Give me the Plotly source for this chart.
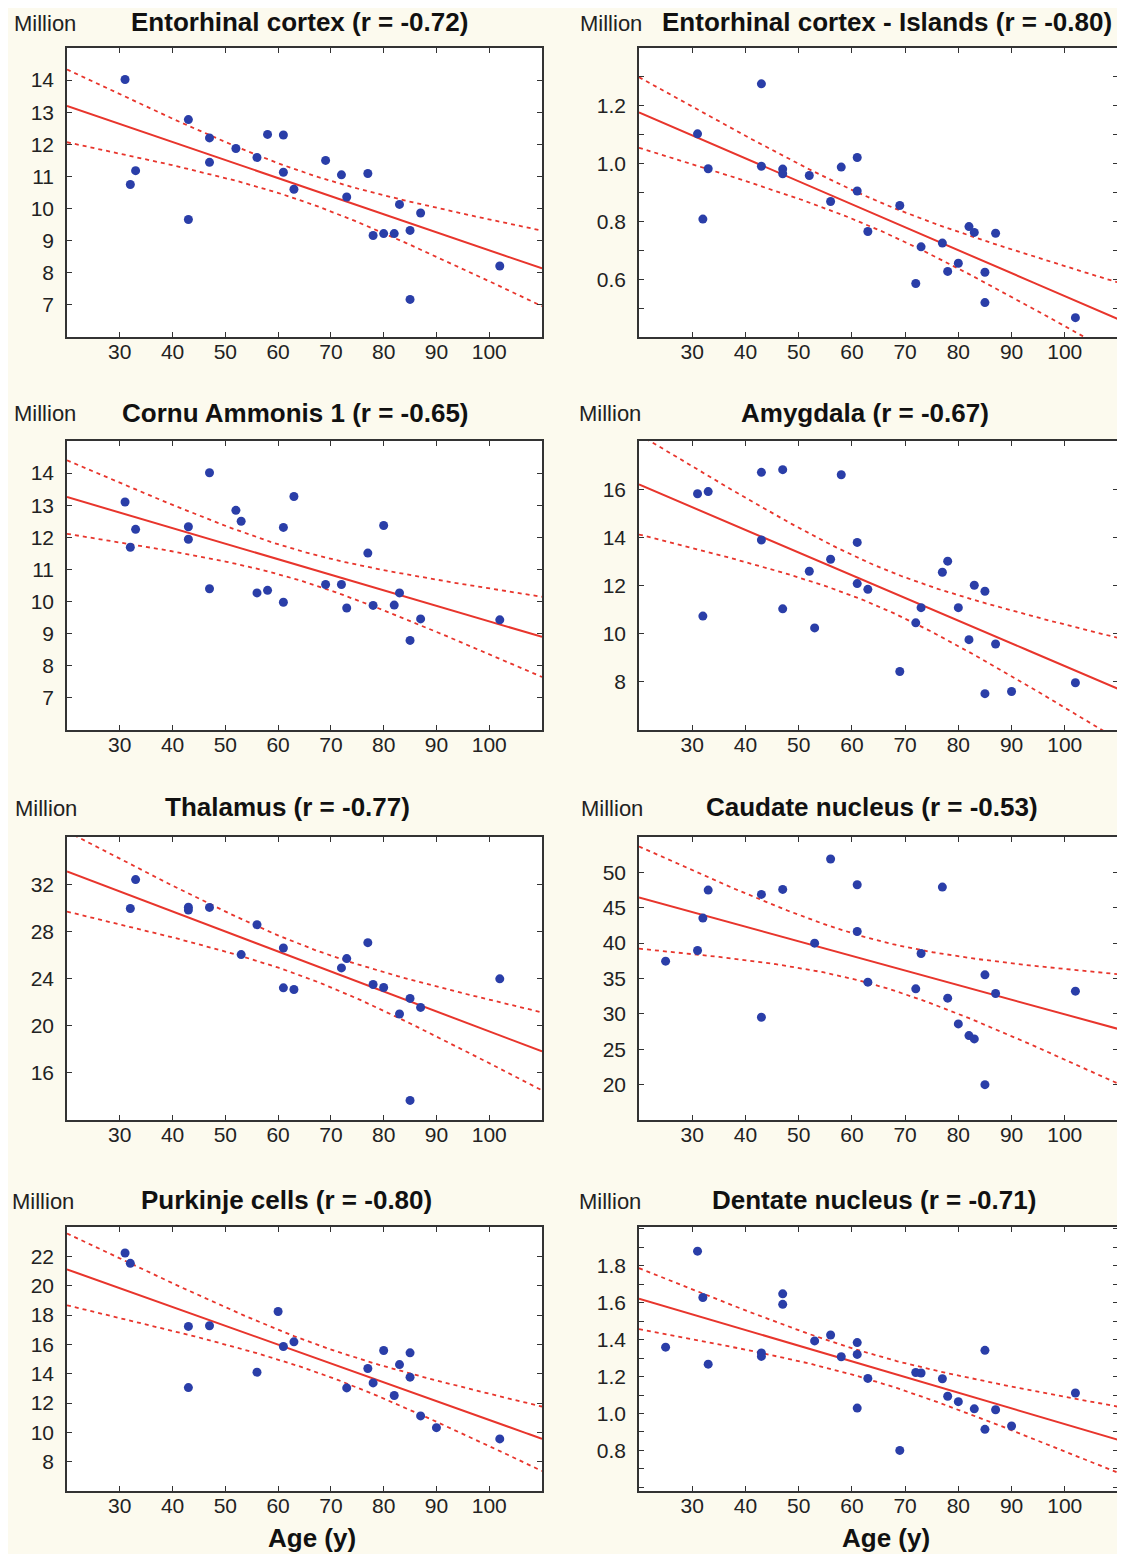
import numpy as np
import plotly.graph_objects as go

# ---------------- data ----------------
ec_age = [31, 32, 33, 43, 43, 47, 47, 52, 56, 58, 61, 61, 63, 69, 72, 73, 77, 78, 80, 82, 83, 85, 85, 87, 102]
ec_val = [14.02, 10.75, 11.18, 12.77, 9.66, 12.2, 11.44, 11.87, 11.59, 12.31, 12.29, 11.13, 10.6, 11.5,
          11.05, 10.36, 11.09, 9.16, 9.22, 9.22, 10.13, 9.32, 7.17, 9.86, 8.21]

eci_age = [31, 32, 33, 43, 43, 47, 47, 52, 56, 58, 61, 61, 63, 69, 72, 73, 77, 78, 80, 82, 83, 85, 85, 87, 102]
eci_val = [1.103, 0.808, 0.982, 1.276, 0.991, 0.981, 0.965, 0.959, 0.869, 0.988, 1.021, 0.905, 0.765, 0.855,
           0.585, 0.712, 0.725, 0.627, 0.655, 0.782, 0.762, 0.624, 0.519, 0.759, 0.467]

ca1_age = [31, 32, 33, 43, 43, 47, 47, 52, 53, 56, 58, 61, 61, 63, 69, 72, 73, 77, 78, 80, 82, 83, 85, 87, 102]
ca1_val = [13.10, 11.69, 12.25, 12.33, 11.94, 14.01, 10.40, 12.84, 12.50, 10.27, 10.35, 12.31, 9.98, 13.27,
           10.53, 10.53, 9.80, 11.51, 9.88, 12.37, 9.89, 10.27, 8.79, 9.46, 9.43]

amy_age = [31, 32, 33, 43, 43, 47, 47, 52, 53, 56, 58, 61, 61, 63, 69, 72, 73, 77, 78, 80, 82, 83, 85, 85, 87, 90, 102]
amy_val = [15.81, 10.73, 15.90, 16.70, 13.89, 16.81, 11.03, 12.59, 10.24, 13.09, 16.60, 13.79, 12.08, 11.84,
           8.43, 10.45, 11.08, 12.55, 13.01, 11.08, 9.75, 12.01, 11.76, 7.51, 9.57, 7.60, 7.96]

tha_age = [32, 33, 43, 43, 47, 53, 56, 61, 61, 63, 72, 73, 77, 78, 80, 83, 85, 85, 87, 102]
tha_val = [29.94, 32.39, 30.05, 29.80, 30.03, 26.03, 28.56, 26.59, 23.21, 23.07, 24.90, 25.69, 27.04, 23.49,
           23.24, 20.99, 22.31, 13.66, 21.55, 23.97]

cau_age = [25, 31, 32, 33, 43, 43, 47, 53, 56, 61, 61, 63, 72, 73, 77, 78, 80, 82, 83, 85, 85, 87, 102]
cau_val = [37.45, 38.96, 43.54, 47.50, 46.89, 29.53, 47.59, 40.0, 51.89, 48.25, 41.65, 34.48, 33.54, 38.54,
           47.92, 32.22, 28.58, 26.93, 26.46, 35.52, 20.0, 32.88, 33.21]

pur_age = [31, 32, 43, 43, 47, 56, 60, 61, 63, 73, 77, 78, 80, 82, 83, 85, 85, 87, 90, 102]
pur_val = [22.23, 21.52, 17.22, 13.05, 17.27, 14.10, 18.24, 15.85, 16.17, 13.03, 14.35, 13.37, 15.58, 12.51,
           14.62, 15.42, 13.76, 11.12, 10.32, 9.55]

den_age = [25, 31, 32, 33, 43, 43, 47, 47, 53, 56, 58, 61, 61, 61, 63, 69, 72, 73, 77, 78, 80, 83, 85, 85, 87, 90, 102]
den_val = [1.359, 1.879, 1.628, 1.267, 1.328, 1.309, 1.648, 1.591, 1.393, 1.425, 1.307, 1.384, 1.320, 1.029,
           1.190, 0.800, 1.222, 1.219, 1.188, 1.093, 1.064, 1.025, 1.342, 0.914, 1.020, 0.932, 1.111]

titles = ["Entorhinal cortex (r = -0.72)", "Entorhinal cortex - Islands (r = -0.80)",
          "Cornu Ammonis 1 (r = -0.65)", "Amygdala (r = -0.67)",
          "Thalamus (r = -0.77)", "Caudate nucleus (r = -0.53)",
          "Purkinje cells (r = -0.80)", "Dentate nucleus (r = -0.71)"]

x_ticks = [30, 40, 50, 60, 70, 80, 90, 100]
y_ticks = [
    [7, 8, 9, 10, 11, 12, 13, 14],
    [0.6, 0.8, 1.0, 1.2],
    [7, 8, 9, 10, 11, 12, 13, 14],
    [8, 10, 12, 14, 16],
    [16, 20, 24, 28, 32],
    [20, 25, 30, 35, 40, 45, 50],
    [8, 10, 12, 14, 16, 18, 20, 22],
    [0.8, 1.0, 1.2, 1.4, 1.6, 1.8],
]
y_ranges = [[6, 15], [0.4, 1.4], [6, 15], [6, 18], [12, 36], [15, 55], [6, 24], [0.58, 2.01]]
x_range = [20, 110]

series = [(ec_age, ec_val), (eci_age, eci_val), (ca1_age, ca1_val), (amy_age, amy_val),
          (tha_age, tha_val), (cau_age, cau_val), (pur_age, pur_val), (den_age, den_val)]

# ---------------- layout geometry (window pixels; page has an 8px body margin) ----------------
OFF = 8
W, H = 1125 - OFF, 1554 - OFF
rows_px = [(48, 337), (441, 730), (837, 1120), (1227, 1491)]
cols_px = [(67, 542), (639, 1118)]
title_cx = [299, 887, 295, 865, 287, 872, 286, 874]
title_cy = [22, 22, 413, 413, 807, 807, 1200, 1200]
million_x = [12, 578, 12, 577, 13, 579, 10, 577]
age_cx = [312, 886]
age_cy = 1538

RED = "#e8352c"
BLUE = "#2a3ea8"
BG = "#fcfaee"
FONT = "Liberation Sans, Arial, sans-serif"


def px_x(v):
    return (v - OFF) / W


def px_y(v):
    return 1 - (v - OFF) / H


def t975(df):
    z = 1.959964
    return z + (z**3 + z) / (4 * df) + (5 * z**5 + 16 * z**3 + 3 * z) / (96 * df**2)


fig = go.Figure()
annotations = []
layout_axes = {}

for i, (ages, vals) in enumerate(series):
    r, c = divmod(i, 2)
    k = i + 1
    xa = "x" if k == 1 else f"x{k}"
    ya = "y" if k == 1 else f"y{k}"

    x = np.array(ages, float)
    y = np.array(vals, float)
    n = len(x)
    b, a = np.polyfit(x, y, 1)
    resid = y - (a + b * x)
    s = np.sqrt(np.sum(resid**2) / (n - 2))
    sxx = np.sum((x - x.mean())**2)
    xs = np.linspace(x_range[0], x_range[1], 120)
    yh = a + b * xs
    half = t975(n - 2) * s * np.sqrt(1.0 / n + (xs - x.mean())**2 / sxx)

    for yy in (yh + half, yh - half):
        fig.add_trace(go.Scatter(x=xs, y=yy, mode="lines", xaxis=xa, yaxis=ya,
                                 line=dict(color=RED, width=1.8, dash="4px,4px"),
                                 hoverinfo="skip", showlegend=False))
    fig.add_trace(go.Scatter(x=xs, y=yh, mode="lines", xaxis=xa, yaxis=ya,
                             line=dict(color=RED, width=2), hoverinfo="skip", showlegend=False))
    fig.add_trace(go.Scatter(x=x, y=y, mode="markers", xaxis=xa, yaxis=ya,
                             marker=dict(color=BLUE, size=9, line=dict(width=0)),
                             showlegend=False))

    x0, x1 = cols_px[c]
    y0, y1 = rows_px[r]
    axis_common = dict(showline=True, linecolor="#333333", linewidth=1.6, mirror="ticks",
                       ticks="inside", ticklen=5, tickwidth=1.3, tickcolor="#333333",
                       showgrid=False, zeroline=False,
                       tickfont=dict(family=FONT, size=21, color="#222222"))
    layout_axes["xaxis" if k == 1 else f"xaxis{k}"] = dict(
        axis_common, domain=[px_x(x0), px_x(x1)], range=x_range, tickvals=x_ticks,
        anchor=ya, ticklabelstandoff=-5)
    yax = dict(axis_common, domain=[px_y(y1), px_y(y0)], range=y_ranges[i],
               tickvals=y_ticks[i], anchor=xa, ticklabelstandoff=7)
    if i in (1, 7):
        yax["tickformat"] = ".1f"
        yax["minor"] = dict(dtick=0.1, ticks="inside", ticklen=5, tickwidth=1.3,
                            tickcolor="#333333", showgrid=False, tick0=0)
    layout_axes["yaxis" if k == 1 else f"yaxis{k}"] = yax

    annotations.append(dict(text=f"<b>{titles[i]}</b>", xref="paper", yref="paper",
                            x=px_x(title_cx[i]), y=px_y(title_cy[i]), xanchor="center",
                            yanchor="middle", showarrow=False,
                            font=dict(family=FONT, size=26, color="#111111")))
    annotations.append(dict(text="Million", xref="paper", yref="paper",
                            x=px_x(million_x[i]), y=px_y(title_cy[i] + 1), xanchor="left",
                            yanchor="middle", showarrow=False,
                            font=dict(family=FONT, size=22, color="#222222")))

for cx in age_cx:
    annotations.append(dict(text="<b>Age (y)</b>", xref="paper", yref="paper",
                            x=px_x(cx), y=px_y(age_cy), xanchor="center", yanchor="middle",
                            showarrow=False, font=dict(family=FONT, size=26, color="#111111")))

fig.update_layout(width=W, height=H, margin=dict(l=0, r=0, t=0, b=0),
                  paper_bgcolor=BG, plot_bgcolor="white", annotations=annotations,
                  **layout_axes)

fig.write_html("out.html")
